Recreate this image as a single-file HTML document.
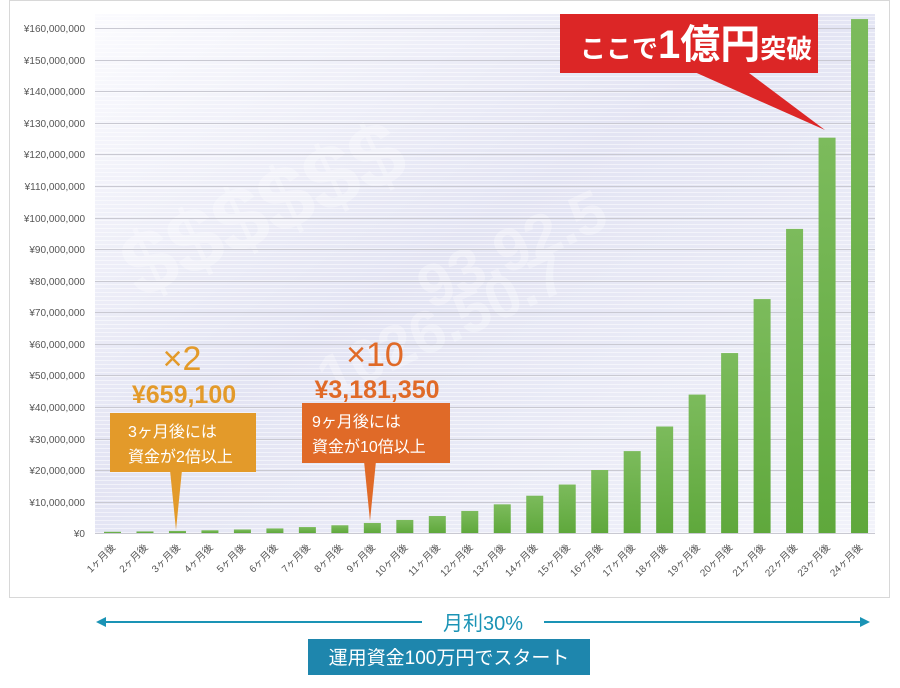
<!DOCTYPE html><html><head><meta charset="utf-8"><style>
body{margin:0;background:#fff;font-family:"Liberation Sans","Noto Sans CJK JP",sans-serif}
</style></head><body>
<svg width="900" height="688" xmlns="http://www.w3.org/2000/svg" style="display:block;font-family:'Liberation Sans','Noto Sans CJK JP',sans-serif">
<defs>
<linearGradient id="bg" x1="0" y1="0" x2="1" y2="1"><stop offset="0" stop-color="#fbfbfe"/><stop offset="0.45" stop-color="#e3e4f3"/><stop offset="1" stop-color="#f2f3fa"/></linearGradient>
<linearGradient id="bar" x1="0" y1="0" x2="0" y2="1"><stop offset="0" stop-color="#7cbb5c"/><stop offset="1" stop-color="#5fa83c"/></linearGradient>
<pattern id="ln" width="4" height="4" patternUnits="userSpaceOnUse"><rect width="4" height="1" fill="#ffffff" opacity="0.5"/></pattern>
</defs>
<rect x="9.5" y="0.5" width="880" height="597" fill="#fff" stroke="#d8d8d8"/>
<rect x="95" y="14" width="780" height="520" fill="url(#bg)"/>
<g fill="#ffffff" opacity="0.3" font-weight="bold" font-size="90">
<text x="140" y="300" transform="rotate(-25 140 300)">$$$$$$</text>
<text x="330" y="400" transform="rotate(-25 330 400)" font-size="60">1026.50.7</text>
<text x="430" y="310" transform="rotate(-25 430 310)" font-size="60">93.92.5</text>
</g>
<rect x="95" y="14" width="780" height="520" fill="url(#ln)"/>
<g stroke="#c9c9d2" stroke-width="1">
<line x1="95" x2="875" y1="28.5" y2="28.5"/><line x1="95" x2="875" y1="60.5" y2="60.5"/><line x1="95" x2="875" y1="91.5" y2="91.5"/><line x1="95" x2="875" y1="123.5" y2="123.5"/><line x1="95" x2="875" y1="154.5" y2="154.5"/><line x1="95" x2="875" y1="186.5" y2="186.5"/><line x1="95" x2="875" y1="218.5" y2="218.5"/><line x1="95" x2="875" y1="249.5" y2="249.5"/><line x1="95" x2="875" y1="281.5" y2="281.5"/><line x1="95" x2="875" y1="312.5" y2="312.5"/><line x1="95" x2="875" y1="344.5" y2="344.5"/><line x1="95" x2="875" y1="375.5" y2="375.5"/><line x1="95" x2="875" y1="407.5" y2="407.5"/><line x1="95" x2="875" y1="439.5" y2="439.5"/><line x1="95" x2="875" y1="470.5" y2="470.5"/><line x1="95" x2="875" y1="502.5" y2="502.5"/><line x1="95" x2="875" y1="533.5" y2="533.5"/>
</g>
<g font-size="10" fill="#555" text-anchor="end">
<text x="85" y="32">¥160,000,000</text><text x="85" y="64">¥150,000,000</text><text x="85" y="95">¥140,000,000</text><text x="85" y="127">¥130,000,000</text><text x="85" y="158">¥120,000,000</text><text x="85" y="190">¥110,000,000</text><text x="85" y="222">¥100,000,000</text><text x="85" y="253">¥90,000,000</text><text x="85" y="285">¥80,000,000</text><text x="85" y="316">¥70,000,000</text><text x="85" y="348">¥60,000,000</text><text x="85" y="379">¥50,000,000</text><text x="85" y="411">¥40,000,000</text><text x="85" y="443">¥30,000,000</text><text x="85" y="474">¥20,000,000</text><text x="85" y="506">¥10,000,000</text><text x="85" y="537">¥0</text>
</g>
<g id="bars" fill="url(#bar)"></g>
<g id="xl" font-size="10" fill="#555" text-anchor="end"></g>
<script>
var b=document.getElementById('bars'),xl=document.getElementById('xl'),ns='http://www.w3.org/2000/svg';
for(var n=1;n<=24;n++){var v=3.18135*Math.pow(1.3,n-9);var h=v/10*31.56;var cx=112+(n-1)*32.48;
var r=document.createElementNS(ns,'rect');r.setAttribute('x',cx-8);r.setAttribute('y',533-h);r.setAttribute('width',17);r.setAttribute('height',Math.max(h,1));b.appendChild(r);
var t=document.createElementNS(ns,'text');t.setAttribute('x',cx+4);t.setAttribute('y',548);t.setAttribute('transform','rotate(-45 '+(cx+4)+' 548)');t.textContent=n+'ヶ月後';xl.appendChild(t);}
</script>
<text x="182" y="370" font-size="34" fill="#e39a2a" text-anchor="middle">×2</text>
<text x="184" y="403" font-size="25" font-weight="bold" fill="#e39a2a" text-anchor="middle">¥659,100</text>
<polygon points="170,470 182,470 176,530" fill="#e39a2a"/>
<rect x="110" y="413" width="146" height="59" fill="#e39a2a"/>
<text x="128" y="437" font-size="16" fill="#fff">3ヶ月後には</text>
<text x="128" y="462" font-size="16" fill="#fff">資金が2倍以上</text>
<text x="375" y="366" font-size="34" fill="#e06a28" text-anchor="middle">×10</text>
<text x="377" y="398" font-size="25" font-weight="bold" fill="#e06a28" text-anchor="middle">¥3,181,350</text>
<polygon points="364,461 376,461 370,521" fill="#e06a28"/>
<rect x="302" y="403" width="148" height="60" fill="#e06a28"/>
<text x="312" y="427" font-size="16" fill="#fff">9ヶ月後には</text>
<text x="312" y="452" font-size="16" fill="#fff">資金が10倍以上</text>
<polygon points="690,70 745,70 825,130" fill="#dc2626"/>
<rect x="560" y="14" width="258" height="59" fill="#dc2626"/>
<text x="580" y="58" fill="#fff" font-weight="bold"><tspan font-size="26">ここで</tspan><tspan font-size="40">1億円</tspan><tspan font-size="26">突破</tspan></text>
<line x1="104" y1="622" x2="422" y2="622" stroke="#1a93b5" stroke-width="2"/>
<line x1="544" y1="622" x2="862" y2="622" stroke="#1a93b5" stroke-width="2"/>
<polygon points="96,622 106,617 106,627" fill="#1a93b5"/>
<polygon points="870,622 860,617 860,627" fill="#1a93b5"/>
<text x="483" y="630" font-size="20" fill="#1a93b5" text-anchor="middle">月利30%</text>
<rect x="308" y="639" width="282" height="36" fill="#1e86ad"/>
<text x="449" y="664" font-size="19" fill="#fff" text-anchor="middle">運用資金100万円でスタート</text>
</svg>
</body></html>
